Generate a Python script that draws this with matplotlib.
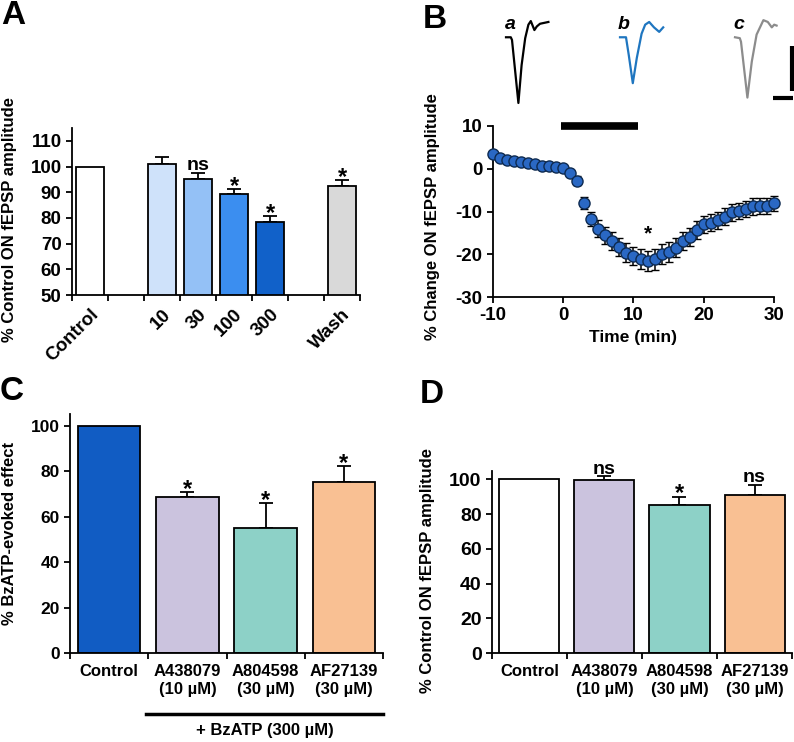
import matplotlib
matplotlib.use("Agg")
import matplotlib.pyplot as plt
import matplotlib.transforms as mtransforms
import numpy as np

plt.rcParams['font.family'] = ['Liberation Sans', 'DejaVu Sans']
plt.rcParams['font.weight'] = 'bold'
plt.rcParams['font.size'] = 12
plt.rcParams['axes.linewidth'] = 1.3
plt.rcParams['axes.labelweight'] = 'bold'
plt.rcParams['axes.unicode_minus'] = False
plt.rcParams['xtick.major.width'] = 1.3
plt.rcParams['ytick.major.width'] = 1.3
plt.rcParams['xtick.major.size'] = 4
plt.rcParams['ytick.major.size'] = 4

# ---- panel A : BzATP concentrations
a_cats = ["Control", "", "10", "30", "100", "300", "", "Wash"]
a_vals = [100, np.nan, 101.0, 95.0, 89.5, 78.3, np.nan, 92.5]
a_err = [0, 0, 2.8, 2.5, 1.7, 2.4, 0, 2.2]
a_sig = ["", "", "", "ns", "*", "*", "", "*"]
a_colors = ["white", "white", "#cfe2fa", "#94c1f6", "#3b8ef0", "#1161c9", "white", "#d9d9d9"]

# ---- panel B : time course
b_time = list(range(-10, 31))
b_vals = [3.5, 2.5, 2.1, 1.9, 1.6, 1.4, 1.0, 0.7, 0.6, 0.4, 0.2,
          -0.9, -2.8, -8.0, -11.8, -14.0, -15.6, -16.8, -18.4, -19.6, -20.4,
          -21.1, -21.6, -21.2, -19.9, -19.5, -18.5, -16.9, -15.9, -14.4, -13.0,
          -12.6, -12.0, -11.2, -10.2, -9.8, -9.4, -8.8, -8.7, -8.7, -8.1]
b_err = [0.5, 0.4, 0.4, 0.4, 0.4, 0.4, 0.4, 0.4, 0.4, 0.4, 0.4,
         0.6, 1.1, 1.4, 1.7, 1.9, 2.0, 2.1, 2.1, 2.2, 2.2,
         2.3, 2.4, 2.4, 2.3, 2.3, 2.2, 2.2, 2.1, 2.1, 2.0,
         2.0, 2.0, 2.0, 2.0, 1.9, 1.9, 1.9, 1.9, 1.9, 1.8]
b_drug = (-0.3, 10.6)   # BzATP application (min)
b_star_time = 12

# example traces (ms, mV)
trace_a_t = [0, 1.2, 1.5, 3.1, 3.9, 4.8, 5.6, 6.2, 7.1, 7.7, 8.5, 10.6]
trace_a_v = [0, 0, -0.03, -0.73, -0.31, -0.01, 0.14, 0.18, 0.08, 0.12, 0.15, 0.17]
trace_b_t = [0, 1.5, 2.2, 3.2, 4.2, 5.4, 6.3, 7.3, 8.5, 9.8, 10.8]
trace_b_v = [0, 0, -0.2, -0.51, -0.23, 0.04, 0.14, 0.17, 0.11, 0.06, 0.11]
trace_c_t = [0, 1.2, 1.5, 3.1, 4.2, 5.4, 7.1, 8.2, 9.2, 9.8, 10.4]
trace_c_v = [0, -0.01, -0.05, -0.67, -0.27, 0.03, 0.19, 0.17, 0.11, 0.14, 0.13]
scale_ms = 5
scale_mv = 0.5

# ---- panels C & D : antagonists
ant_cats = ["Control", "A438079\n(10 µM)", "A804598\n(30 µM)", "AF27139\n(30 µM)"]
c_vals = [100, 68.7, 55.2, 75.4]
c_err = [0, 2.0, 10.7, 6.8]
c_sig = ["", "*", "*", "*"]
d_vals = [100, 99.4, 85.0, 91.0]
d_err = [0, 2.4, 5.0, 5.8]
d_sig = ["", "ns", "*", "ns"]
c_colors = ["#115cc3", "#cbc3de", "#8dd1c7", "#f9c093"]
d_colors = ["white", "#cbc3de", "#8dd1c7", "#f9c093"]


def style(ax, size):
    ax.spines['top'].set_visible(False)
    ax.spines['right'].set_visible(False)
    ax.tick_params(direction='out', labelsize=size)


def mark(ax, x, y, s):
    # star glyph sits high in its box, "ns" sits on the baseline
    off = -2.5 if s == "*" else 2
    size = 17 if s == "*" else 14
    ax.annotate(s, (x, y), xytext=(0, off), textcoords='offset points',
                ha='center', va='baseline', fontsize=size)


def bars(ax, vals, err, colors, sig):
    x = np.arange(len(vals))
    for i, v in enumerate(vals):
        if np.isnan(v):
            continue
        ax.bar(x[i], v, width=0.8, color=colors[i], edgecolor='black', linewidth=1.3, zorder=2)
        if err[i] > 0:
            ax.errorbar(x[i], v, yerr=[[0], [err[i]]], fmt='none', ecolor='black',
                        elinewidth=1.3, capsize=5, capthick=1.3, zorder=1)
        if sig[i]:
            mark(ax, x[i], v + err[i], sig[i])
    # category ticks at boundaries, labels at centres
    ax.set_xticks(np.arange(len(vals) + 1) - 0.5)
    ax.set_xticklabels([])
    ax.set_xlim(-0.5, len(vals) - 0.5)


fig = plt.figure(figsize=(7.94, 7.42), dpi=100)

# A
axA = fig.add_axes([0.0907, 0.6024, 0.3627, 0.2251])
style(axA, 13.5)
bars(axA, a_vals, a_err, a_colors, a_sig)
axA.set_ylim(50, 115)
axA.set_yticks(range(50, 111, 10))
axA.set_xticks(range(len(a_cats)), a_cats, minor=True, rotation=45, ha='right',
               rotation_mode='anchor', fontsize=13.5)
axA.tick_params(axis='x', which='minor', length=0, pad=8)
axA.set_ylabel("% Control ON fEPSP amplitude", fontsize=12)
axA.yaxis.set_label_coords(-0.19, 0.455)

# B
axB = fig.add_axes([0.6209, 0.5997, 0.3539, 0.2305])
style(axB, 13.5)
axB.errorbar(b_time, b_vals, yerr=b_err, fmt='o', color='#2a68c4', mec='#0e2a50', mew=1.0,
             ms=8, ecolor='black', elinewidth=1.1, capsize=3, capthick=1.1, clip_on=False, zorder=3)
axB.set_xlim(-10, 30)
axB.set_ylim(-30, 10)
axB.set_xticks(range(-10, 31, 10))
axB.set_yticks(range(-30, 11, 10))
axB.plot(b_drug, [10, 10], color='black', lw=5.5, solid_capstyle='butt', clip_on=False)
i12 = b_time.index(b_star_time)
axB.annotate("*", (b_star_time, b_vals[i12] + b_err[i12]), xytext=(0, 8.5),
             textcoords='offset points', ha='center', va='baseline', fontsize=15)
axB.set_xlabel("Time (min)", fontsize=12.5, labelpad=4)
axB.set_ylabel("% Change ON fEPSP amplitude", fontsize=12)
axB.yaxis.set_label_coords(-0.19, 0.47)

# traces
axT = fig.add_axes([500 / 794, 1 - 110 / 742, 294 / 794, 110 / 742])
axT.set_xlim(0, 73.5)
axT.set_ylim(-0.808, 0.414)
axT.axis('off')
for tt, vv, col, off, lab in [(trace_a_t, trace_a_v, 'black', 1.5, 'a'),
                              (trace_b_t, trace_b_v, '#1f76c0', 30.0, 'b'),
                              (trace_c_t, trace_c_v, '#8c8c8c', 58.75, 'c')]:
    axT.plot(np.array(tt) + off, vv, color=col, lw=1.6, clip_on=False)
    axT.text(off + 1.0, 0.14, lab, style='italic', fontsize=14, ha='center', va='center')
sb_x, sb_y = 73.0, -0.671
axT.plot([sb_x, sb_x], [-0.097, -0.097 - scale_mv], color='black', lw=3, solid_capstyle='butt', clip_on=False)
axT.plot([sb_x - scale_ms + 0.2, sb_x + 0.3], [sb_y, sb_y], color='black', lw=3, solid_capstyle='butt', clip_on=False)

# C
axC = fig.add_axes([0.0882, 0.1199, 0.3942, 0.3217])
style(axC, 12.5)
bars(axC, c_vals, c_err, c_colors, c_sig)
axC.set_ylim(0, 105)
axC.set_yticks(range(0, 101, 20))
axC.set_xticks(range(len(ant_cats)), ant_cats, minor=True, fontsize=12)
axC.tick_params(axis='x', which='minor', length=0, pad=8)
axC.set_ylabel("% BzATP-evoked effect", fontsize=12)
axC.yaxis.set_label_coords(-0.17, 0.5)
tr = mtransforms.blended_transform_factory(axC.transData, axC.transAxes)
axC.plot([0.47, 3.5], [-0.256, -0.256], color='black', lw=2.5, transform=tr, clip_on=False)
axC.text(1.985, -0.325, "+ BzATP (300 µM)", transform=tr, ha='center', va='center', fontsize=12)

# D
axD = fig.add_axes([0.6196, 0.1199, 0.3779, 0.2457])
style(axD, 14)
bars(axD, d_vals, d_err, d_colors, d_sig)
axD.set_ylim(0, 105)
axD.set_yticks(range(0, 101, 20))
axD.set_xticks(range(len(ant_cats)), ant_cats, minor=True, fontsize=12)
axD.tick_params(axis='x', which='minor', length=0, pad=8)
axD.set_ylabel("% Control ON fEPSP amplitude", fontsize=12)
axD.yaxis.set_label_coords(-0.19, 0.45)

# panel letters
for lab, x, y in [("A", 0.002, 1.0), ("B", 0.532, 0.995), ("C", 0.0, 0.4937), ("D", 0.529, 0.489)]:
    fig.text(x, y, lab, fontsize=24, fontweight='bold', ha='left', va='top')

fig.savefig("out.png", dpi=100)
